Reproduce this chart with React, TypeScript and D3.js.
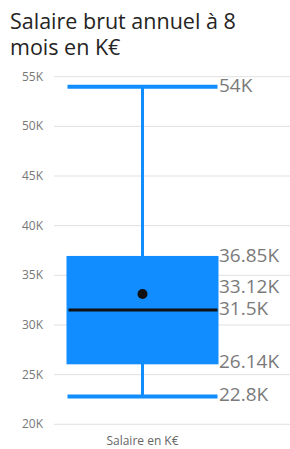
import React from "react";
import * as d3 from "d3";

const title = ["Salaire brut annuel à 8", "mois en K€"];
const category = "Salaire en K€";
const yTicks = [20, 25, 30, 35, 40, 45, 50, 55];
const stats = { min: 22.8, q1: 26.14, median: 31.5, mean: 33.12, q3: 36.85, max: 54 };
const labelValues = [54, 36.85, 33.12, 31.5, 26.14, 22.8];
const labelTexts = ["54K", "36.85K", "33.12K", "31.5K", "26.14K", "22.8K"];

const W = 290;
const H = 449;
const BLUE = "#118DFF";
const FONT = "'Open Sans', 'Segoe UI', sans-serif";

export default function App() {
  const y = d3.scaleLinear().domain([20, 55]).range([424.3, 76.7]);
  const x = d3.scaleBand().domain([category]).range([54, 231]).paddingInner(0).paddingOuter(0.09);
  const cx = (x(category) as number) + x.bandwidth() / 2;
  const bw = x.bandwidth();
  const left = cx - bw / 2;
  const right = cx + bw / 2;

  const minGap = 22;
  const items = labelValues.map((v, i) => ({ v, t: labelTexts[i], by: y(v) + 5 }));
  const sorted = [...items].sort((a, b) => b.by - a.by);
  for (let i = 1; i < sorted.length; i++) {
    if (sorted[i - 1].by - sorted[i].by < minGap) {
      sorted[i].by = sorted[i - 1].by - minGap;
    }
  }

  return (
    <svg
      width={W}
      height={H}
      style={{ position: "absolute", left: 0, top: 0, background: "#fff" }}
      fontFamily={FONT}
    >
      <text x={10} y={29} fontSize={21.5} fill="#252423">{title[0]}</text>
      <text x={10} y={55} fontSize={21.5} fill="#252423">{title[1]}</text>

      {yTicks.map((t) => (
        <g key={t}>
          <line x1={54} x2={290} y1={y(t)} y2={y(t)} stroke="#e1e1e1" strokeWidth={1} />
          <text x={43} y={y(t) + 4} fontSize={12} fill="#777" textAnchor="end">
            {t}K
          </text>
        </g>
      ))}

      <line x1={cx} x2={cx} y1={y(stats.max)} y2={y(stats.min)} stroke={BLUE} strokeWidth={3} />
      <line x1={left} x2={right} y1={y(stats.max)} y2={y(stats.max)} stroke={BLUE} strokeWidth={4} />
      <line x1={left} x2={right} y1={y(stats.min)} y2={y(stats.min)} stroke={BLUE} strokeWidth={4} />
      <rect x={left} y={y(stats.q3)} width={bw} height={y(stats.q1) - y(stats.q3)} fill={BLUE} stroke={BLUE} strokeWidth={2} />
      <line x1={left + 1} x2={right} y1={y(stats.median)} y2={y(stats.median)} stroke="#111" strokeWidth={3} />
      <circle cx={cx} cy={y(stats.mean)} r={5} fill="#111" />

      {items.map((it) => (
        <text key={it.t} x={219} y={it.by} fontSize={19} fill="#7a7a7a">
          {it.t}
        </text>
      ))}

      <text x={cx} y={445} fontSize={12} fill="#666" textAnchor="middle">
        {category}
      </text>
    </svg>
  );
}
